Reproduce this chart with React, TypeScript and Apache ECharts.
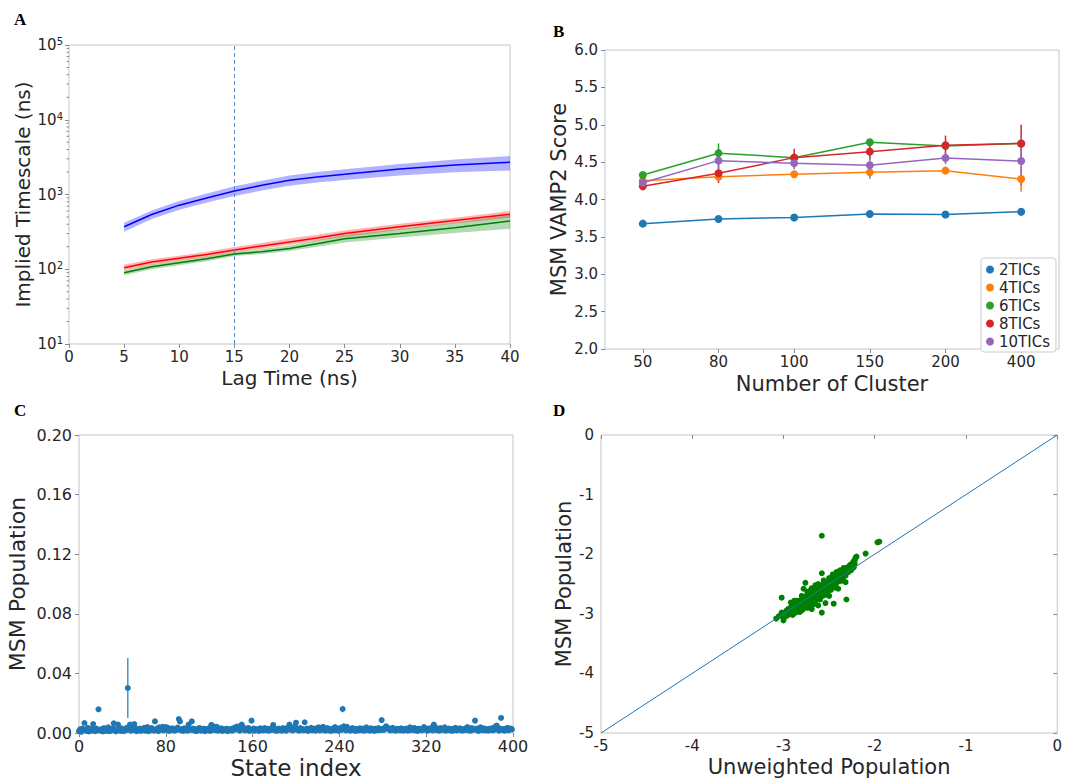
import React, { useEffect, useRef } from 'react';
import * as echarts from 'echarts';

// ---------- Panel A: implied timescales ----------
const lagTimes = [5, 7.5, 10, 12.5, 15, 17.5, 20, 22.5, 25, 30, 35, 40];
const blueMean = [371, 540, 720, 900, 1115, 1330, 1550, 1720, 1860, 2190, 2480, 2700];
const blueUpper = [420, 610, 820, 1030, 1290, 1530, 1800, 2000, 2170, 2560, 2950, 3270];
const blueLower = [318, 470, 625, 780, 955, 1130, 1310, 1450, 1560, 1800, 1980, 2100];
const redMean = [105, 125, 140, 158, 181, 205, 232, 262, 300, 370, 450, 543];
const redUpper = [115, 136, 152, 172, 198, 225, 257, 290, 330, 405, 490, 600];
const redLower = [97, 115, 130, 146, 168, 188, 212, 240, 272, 336, 410, 490];
const greenMean = [90, 108, 122, 138, 160, 172, 190, 220, 255, 300, 360, 442];
const greenUpper = [97, 116, 131, 148, 170, 186, 208, 244, 285, 345, 420, 532];
const greenLower = [83, 100, 113, 128, 150, 160, 176, 200, 228, 265, 305, 347];
const chosenLag = 15;
const logMinorMultipliers = [2, 3, 4, 5, 6, 7, 8, 9];
const logDecades = [10, 100, 1000, 10000];

// ---------- Panel B: VAMP2 scores ----------
const clusterCounts = ['50', '80', '100', '150', '200', '400'];
const ticNames = ['2TICs', '4TICs', '6TICs', '8TICs', '10TICs'];
const ticColors = ['#1f77b4', '#ff7f0e', '#2ca02c', '#d62728', '#9467bd'];
const vamp2TIC = [3.677, 3.74, 3.76, 3.806, 3.8, 3.837];
const vamp4TIC = [4.25, 4.305, 4.337, 4.363, 4.386, 4.274];
const vamp6TIC = [4.328, 4.62, 4.56, 4.765, 4.716, 4.75];
const vamp8TIC = [4.176, 4.35, 4.56, 4.64, 4.725, 4.75];
const vamp10TIC = [4.225, 4.52, 4.484, 4.457, 4.555, 4.515];
const err2TIC = [0.01, 0.015, 0.015, 0.02, 0.04, 0.05];
const err4TIC = [0.02, 0.03, 0.04, 0.03, 0.03, 0.17];
const err6TIC = [0.02, 0.13, 0.03, 0.04, 0.03, 0.05];
const err8TIC = [0.05, 0.13, 0.12, 0.1, 0.13, 0.25];
const err10TIC = [0.03, 0.12, 0.08, 0.18, 0.08, 0.33];

// ---------- Panel C: MSM population per state (units of 1e-4) ----------
const statePopX1e4 = [
  12, 25, 8, 30, 18, 67, 22, 14, 35, 10, 20, 28, 15, 60, 24, 12, 30, 18, 159, 22,
  15, 26, 10, 33, 20, 14, 28, 38, 12, 22, 17, 30, 65, 24, 11, 19, 56, 27, 14, 32,
  20, 13, 25, 18, 35, 302, 22, 56, 15, 28, 21, 60, 32, 12, 24, 18, 30, 14, 26, 20,
  35, 16, 22, 40, 12, 28, 19, 33, 24, 15, 78, 22, 30, 13, 38, 20, 26, 42, 17, 25,
  40, 22, 35, 14, 27, 19, 31, 24, 16, 29, 21, 36, 94, 78, 18, 26, 14, 32, 22, 28,
  15, 56, 24, 20, 78, 30, 17, 25, 13, 27, 22, 34, 16, 24, 19, 29, 12, 26, 21, 18,
  33, 14, 54, 23, 45, 19, 28, 42, 16, 25, 20, 31, 14, 26, 18, 22, 29, 13, 24, 20,
  27, 16, 32, 21, 38, 25, 44, 30, 15, 26, 56, 40, 22, 17, 28, 20, 34, 14, 25, 83,
  22, 30, 16, 27, 19, 25, 14, 31, 20, 24, 17, 33, 22, 18, 29, 15, 26, 21, 35, 54,
  19, 27, 14, 24, 30, 18, 25, 16, 33, 21, 28, 15, 24, 40, 56, 22, 30, 17, 26, 44,
  69, 20, 28, 15, 33, 22, 26, 18, 72, 24, 30, 14, 27, 21, 35, 18, 25, 29, 16, 31,
  22, 38, 17, 26, 20, 42, 28, 15, 24, 33, 19, 27, 14, 25, 30, 18, 40, 22, 29, 16,
  26, 35, 20, 161, 45, 24, 18, 42, 30, 22, 16, 27, 33, 19, 25, 14, 28, 21, 17, 31,
  24, 18, 30, 15, 26, 38, 21, 27, 16, 32, 20, 25, 14, 29, 22, 18, 33, 24, 19, 87,
  28, 20, 34, 45, 38, 30, 22, 17, 27, 35, 19, 24, 15, 28, 21, 26, 18, 32, 23, 16,
  27, 20, 30, 15, 25, 38, 19, 28, 22, 34, 17, 26, 14, 29, 21, 24, 18, 31, 40, 22,
  26, 16, 30, 21, 25, 35, 17, 56, 42, 23, 19, 28, 15, 33, 24, 20, 27, 38, 16, 25,
  22, 30, 18, 26, 14, 29, 21, 35, 17, 25, 20, 32, 24, 15, 27, 19, 30, 22, 40, 18,
  26, 16, 33, 21, 28, 83, 20, 30, 14, 27, 38, 19, 24, 31, 17, 26, 22, 15, 29, 21,
  21, 33, 18, 27, 45, 50, 24, 16, 30, 101, 20, 26, 15, 28, 22, 35, 18, 25, 30, 24,
];
const popErrIdx = [18, 45, 243, 365];
const popErrLoX1e4 = [144, 100, 139, 68];
const popErrHiX1e4 = [174, 504, 183, 98];

// ---------- Panel D: log10 population, unweighted vs MSM ----------
const logPopPairs: [number, number][] = [
  [-3.08, -3.08], [-3.05, -3.04], [-3.02, -2.98], [-3.0, -3.11], [-3.02, -2.73], [-2.98, -3.0],
  [-2.97, -2.95], [-2.95, -3.02], [-2.95, -2.92], [-2.93, -2.97], [-2.92, -2.89], [-2.9, -2.94],
  [-2.9, -2.85], [-2.88, -2.99], [-2.88, -2.9], [-2.87, -2.82], [-2.86, -2.95], [-2.85, -2.87],
  [-2.85, -2.78], [-2.84, -2.92], [-2.83, -2.84], [-2.82, -2.97], [-2.82, -2.8], [-2.81, -2.89],
  [-2.8, -2.75], [-2.8, -2.86], [-2.79, -2.93], [-2.78, -2.58], [-2.78, -2.82], [-2.77, -2.77],
  [-2.77, -2.88], [-2.76, -2.48], [-2.76, -2.72], [-2.75, -2.83], [-2.75, -2.79], [-2.74, -2.69],
  [-2.74, -2.9], [-2.73, -2.76], [-2.72, -2.65], [-2.72, -2.85], [-2.71, -2.72], [-2.7, -2.8],
  [-2.7, -2.6], [-2.69, -2.68], [-2.69, -2.92], [-2.68, -2.74], [-2.67, -2.63], [-2.67, -2.84],
  [-2.66, -2.7], [-2.65, -2.58], [-2.65, -2.78], [-2.64, -2.66], [-2.63, -2.73], [-2.63, -2.55],
  [-2.62, -2.62], [-2.62, -2.86], [-2.61, -2.69], [-2.6, -2.58], [-2.6, -2.76], [-2.59, -2.64],
  [-2.58, -2.32], [-2.58, -2.98], [-2.58, -1.69], [-2.58, -2.52], [-2.57, -2.7], [-2.57, -2.6],
  [-2.56, -2.56], [-2.55, -2.66], [-2.55, -2.5], [-2.54, -2.82], [-2.54, -2.6], [-2.53, -2.54],
  [-2.52, -2.64], [-2.52, -2.47], [-2.51, -2.57], [-2.5, -2.52], [-2.5, -2.7], [-2.49, -2.44],
  [-2.48, -2.6], [-2.47, -2.5], [-2.47, -2.41], [-2.46, -2.55], [-2.45, -2.83], [-2.45, -2.46],
  [-2.44, -2.38], [-2.43, -2.52], [-2.43, -2.43], [-2.42, -2.35], [-2.41, -2.47], [-2.4, -2.4],
  [-2.4, -2.58], [-2.39, -2.32], [-2.38, -2.43], [-2.37, -2.36], [-2.36, -2.29], [-2.35, -2.4],
  [-2.34, -2.33], [-2.33, -2.26], [-2.32, -2.47], [-2.32, -2.36], [-2.31, -2.76], [-2.31, -2.28],
  [-2.3, -2.22], [-2.29, -2.3], [-2.28, -2.24], [-2.27, -2.18], [-2.26, -2.27], [-2.25, -2.2],
  [-2.24, -2.14], [-2.23, -2.22], [-2.22, -2.1], [-2.21, -2.06], [-2.2, -2.04], [-2.1, -1.99],
  [-1.97, -1.8], [-1.95, -1.79], [-2.85, -2.97], [-2.96, -2.99], [-2.94, -2.96], [-2.91, -2.91],
  [-2.89, -2.88], [-2.87, -2.9], [-2.86, -2.84], [-2.84, -2.81], [-2.83, -2.88], [-2.81, -2.83],
  [-2.79, -2.8], [-2.78, -2.76], [-2.76, -2.79], [-2.75, -2.73], [-2.73, -2.7], [-2.72, -2.77],
  [-2.71, -2.66], [-2.7, -2.72], [-2.68, -2.67], [-2.67, -2.71], [-2.66, -2.62], [-2.64, -2.62],
  [-2.63, -2.68], [-2.61, -2.6], [-2.6, -2.65], [-2.59, -2.56], [-2.57, -2.53], [-2.56, -2.62],
  [-2.55, -2.56], [-2.53, -2.58], [-2.52, -2.52], [-2.51, -2.48], [-2.49, -2.54], [-2.48, -2.46],
  [-2.46, -2.48], [-2.45, -2.42], [-2.44, -2.5], [-2.42, -2.44], [-2.41, -2.38], [-2.39, -2.4],
  [-2.38, -2.35], [-2.36, -2.36], [-2.35, -2.31], [-2.33, -2.34], [-2.31, -2.3], [-2.29, -2.26],
  [-2.27, -2.25], [-2.26, -2.21], [-2.24, -2.19], [-2.23, -2.12], [-2.22, -2.16], [-2.92, -2.81],
  [-2.88, -2.78], [-2.8, -2.7], [-2.74, -2.63], [-2.69, -2.57], [-2.65, -2.52], [-2.62, -2.5],
  [-2.56, -2.44], [-2.5, -2.4], [-2.46, -2.34], [-2.42, -2.3], [-2.38, -2.27], [-2.34, -2.23],
  [-2.8, -2.94], [-2.72, -2.88], [-2.66, -2.8], [-2.6, -2.72], [-2.54, -2.68], [-2.48, -2.56],
  [-2.43, -2.56], [-2.37, -2.45], [-2.9, -3.02], [-3.0, -3.06], [-2.97, -3.04],
];
const diagonal = [[-5, -5], [0, 0]];

const FONT = 'DejaVu Sans';
const TXT = '#262626';
const FRAME = '#c4c4c4';
const TICK = '#8a8a8a';

function bandSeries(xAxisIndex: number, yAxisIndex: number, xs: number[], upper: number[], lower: number[], fill: string) {
  return {
    type: 'custom',
    xAxisIndex,
    yAxisIndex,
    silent: true,
    clip: true,
    data: [[xs[0], upper[0]]],
    renderItem: (_p: any, api: any) => {
      const pts: number[][] = [];
      for (let i = 0; i < xs.length; i++) pts.push(api.coord([xs[i], upper[i]]));
      for (let i = xs.length - 1; i >= 0; i--) pts.push(api.coord([xs[i], lower[i]]));
      return { type: 'polygon', shape: { points: pts }, style: { fill, stroke: 'none' } };
    },
    z: 1,
  };
}

function errorBars(xAxisIndex: number, yAxisIndex: number, data: number[][], color: string, width: number) {
  return {
    type: 'custom',
    xAxisIndex,
    yAxisIndex,
    silent: true,
    data,
    encode: { x: 0, y: [1, 2] },
    renderItem: (_p: any, api: any) => {
      const a = api.coord([api.value(0), api.value(1)]);
      const b = api.coord([api.value(0), api.value(2)]);
      return { type: 'line', shape: { x1: a[0], y1: a[1], x2: b[0], y2: b[1] }, style: { stroke: color, lineWidth: width } };
    },
    z: 3,
  };
}

function baseAxis(fontSize: number) {
  return {
    axisLine: { show: false },
    axisTick: { show: true, length: 4, lineStyle: { color: TICK, width: 1 } },
    axisLabel: { color: TXT, fontFamily: FONT, fontSize, margin: 6 },
    splitLine: { show: false },
    nameTextStyle: { color: TXT, fontFamily: FONT },
  };
}

export default function App() {
  const ref = useRef<HTMLDivElement>(null);
  useEffect(() => {
    document.body.style.margin = '0';
    const chart = echarts.init(ref.current!, undefined, { renderer: 'svg' });

    const vamp = [vamp2TIC, vamp4TIC, vamp6TIC, vamp8TIC, vamp10TIC];
    const errs = [err2TIC, err4TIC, err6TIC, err8TIC, err10TIC];

    const statePop = statePopX1e4.map((v) => v / 10000);

    const series: any[] = [];
    // Panel A
    series.push(bandSeries(0, 0, lagTimes, blueUpper, blueLower, 'rgba(0,0,255,0.3)'));
    series.push(bandSeries(0, 0, lagTimes, redUpper, redLower, 'rgba(255,0,0,0.3)'));
    series.push(bandSeries(0, 0, lagTimes, greenUpper, greenLower, 'rgba(0,128,0,0.3)'));
    const lineA = (data: number[], color: string, extra: any = {}) => ({
      type: 'line', xAxisIndex: 0, yAxisIndex: 0, silent: true, symbol: 'none',
      data: lagTimes.map((t, i) => [t, data[i]]),
      lineStyle: { color, width: 1.5 }, z: 4, ...extra,
    });
    series.push(lineA(blueMean, '#0000ff', {
      markLine: {
        silent: true, symbol: 'none', label: { show: false },
        lineStyle: { type: [4, 3], color: '#5b8fc4', width: 1 },
        data: [{ xAxis: chosenLag }],
      },
    }));
    series.push(lineA(redMean, '#ff0000'));
    series.push(lineA(greenMean, '#008000'));

    // Panel B
    ticNames.forEach((name, k) => {
      series.push(errorBars(1, 1, clusterCounts.map((_c, i) => [i, vamp[k][i] - errs[k][i], vamp[k][i] + errs[k][i]]), ticColors[k], 1.5));
      series.push({
        type: 'line', name, xAxisIndex: 1, yAxisIndex: 1, silent: true,
        data: vamp[k], symbol: 'circle', symbolSize: 8,
        itemStyle: { color: ticColors[k] }, lineStyle: { color: ticColors[k], width: 1.5 }, z: 4,
      });
    });

    // Panel C
    series.push(errorBars(2, 2, popErrIdx.map((idx, i) => [idx, popErrLoX1e4[i] / 10000, popErrHiX1e4[i] / 10000]), '#1f77b4', 1.2));
    series.push({
      type: 'scatter', xAxisIndex: 2, yAxisIndex: 2, silent: true,
      data: statePop.map((v, i) => [i, v]), symbol: 'circle', symbolSize: 6,
      itemStyle: { color: '#1f77b4', opacity: 1 }, z: 4,
    });

    // Panel D
    series.push({
      type: 'scatter', xAxisIndex: 3, yAxisIndex: 3, silent: true,
      data: logPopPairs, symbol: 'circle', symbolSize: 6,
      itemStyle: { color: '#008000', opacity: 1 }, z: 3,
    });
    series.push({
      type: 'line', xAxisIndex: 3, yAxisIndex: 3, silent: true, symbol: 'none',
      data: diagonal, lineStyle: { color: '#1f77b4', width: 1 }, z: 5,
    });

    const gridStyle = { show: true, borderColor: FRAME, borderWidth: 1, backgroundColor: 'transparent', containLabel: false };

    const panelLabel = (txt: string, x: number, y: number) => ({
      type: 'text', left: x, top: y,
      style: { text: txt, font: 'bold 17px "Liberation Serif", "DejaVu Serif", serif', fill: '#000' },
    });

    const option: any = {
      animation: false,
      backgroundColor: '#ffffff',
      grid: [
        { ...gridStyle, left: 69, top: 45, width: 441, height: 299 },
        { ...gridStyle, left: 605, top: 50, width: 454, height: 299 },
        { ...gridStyle, left: 79, top: 435, width: 434, height: 298 },
        { ...gridStyle, left: 601, top: 435, width: 459, height: 298 },
      ],
      xAxis: [
        {
          ...baseAxis(15), type: 'value', gridIndex: 0, min: 0, max: 40, interval: 5,
          axisLabel: { color: TXT, fontFamily: FONT, fontSize: 15, margin: 5 },
          name: 'Lag Time (ns)', nameLocation: 'middle', nameGap: 24,
          nameTextStyle: { color: TXT, fontFamily: FONT, fontSize: 20 },
        },
        {
          ...baseAxis(15), type: 'category', gridIndex: 1, data: clusterCounts, boundaryGap: true,
          axisTick: { show: true, alignWithLabel: true, length: 4, lineStyle: { color: TICK } },
          axisLabel: { color: TXT, fontFamily: FONT, fontSize: 15, margin: 5 },
          name: 'Number of Cluster', nameLocation: 'middle', nameGap: 24,
          nameTextStyle: { color: TXT, fontFamily: FONT, fontSize: 21 },
        },
        {
          ...baseAxis(16), type: 'value', gridIndex: 2, min: 0, max: 400, interval: 80,
          axisLabel: { color: TXT, fontFamily: FONT, fontSize: 16, margin: 5 },
          name: 'State index', nameLocation: 'middle', nameGap: 23,
          nameTextStyle: { color: TXT, fontFamily: FONT, fontSize: 23 },
        },
        {
          ...baseAxis(15), type: 'value', gridIndex: 3, min: -5, max: 0, interval: 1,
          axisLabel: { color: TXT, fontFamily: FONT, fontSize: 15, margin: 5 },
          name: 'Unweighted Population', nameLocation: 'middle', nameGap: 23,
          nameTextStyle: { color: TXT, fontFamily: FONT, fontSize: 21 },
        },
      ],
      yAxis: [
        {
          ...baseAxis(15), type: 'log', logBase: 10, gridIndex: 0, min: 10, max: 100000,
          axisLabel: {
            color: TXT, fontFamily: FONT, fontSize: 15, margin: 6,
            formatter: (v: number) => '10{sup|' + Math.round(Math.log10(v)) + '}',
            rich: { sup: { fontSize: 10, fontFamily: FONT, color: TXT, verticalAlign: 'top', padding: [0, 0, 7, 0] } },
          },
          name: 'Implied Timescale (ns)', nameLocation: 'middle', nameGap: 36,
          nameTextStyle: { color: TXT, fontFamily: FONT, fontSize: 20 },
        },
        {
          ...baseAxis(15), type: 'value', gridIndex: 1, min: 2, max: 6, interval: 0.5,
          axisLabel: { color: TXT, fontFamily: FONT, fontSize: 15, margin: 7, formatter: (v: number) => v.toFixed(1) },
          name: 'MSM VAMP2 Score', nameLocation: 'middle', nameGap: 36,
          nameTextStyle: { color: TXT, fontFamily: FONT, fontSize: 21 },
        },
        {
          ...baseAxis(16), type: 'value', gridIndex: 2, min: 0, max: 0.2, interval: 0.04,
          axisLabel: { color: TXT, fontFamily: FONT, fontSize: 16, margin: 7, formatter: (v: number) => v.toFixed(2) },
          name: 'MSM Population', nameLocation: 'middle', nameGap: 51,
          nameTextStyle: { color: TXT, fontFamily: FONT, fontSize: 22 },
        },
        {
          ...baseAxis(15), type: 'value', gridIndex: 3, min: -5, max: 0, interval: 1,
          axisLabel: { color: TXT, fontFamily: FONT, fontSize: 15, margin: 7 },
          name: 'MSM Population', nameLocation: 'middle', nameGap: 27,
          nameTextStyle: { color: TXT, fontFamily: FONT, fontSize: 21 },
        },
      ],
      legend: {
        data: ticNames.map((n, k) => ({ name: n, icon: 'circle', itemStyle: { color: ticColors[k] } })),
        orient: 'vertical', left: 981, top: 258,
        itemWidth: 8, itemHeight: 8, itemGap: 3,
        padding: [4, 6, 3, 5],
        borderColor: '#cccccc', borderWidth: 1, borderRadius: 3, backgroundColor: '#ffffff',
        textStyle: { color: TXT, fontFamily: FONT, fontSize: 15 },
        selectedMode: false,
      },
      graphic: [
        panelLabel('A', 14, 11),
        panelLabel('B', 553, 23),
        panelLabel('C', 14, 402),
        panelLabel('D', 553, 402),
      ],
      series,
    };
    chart.setOption(option);

    // minor ticks of the log axis, placed through the axis scale
    const minor: any[] = [];
    logDecades.forEach((d) => {
      logMinorMultipliers.forEach((m) => {
        const y = chart.convertToPixel({ yAxisIndex: 0 }, d * m) as number;
        const x0 = chart.convertToPixel({ xAxisIndex: 0 }, 0) as number;
        minor.push({ type: 'line', shape: { x1: x0 - 2.5, y1: y, x2: x0, y2: y }, style: { stroke: TICK, lineWidth: 1 }, silent: true });
      });
    });
    chart.setOption({ graphic: [...option.graphic, ...minor] });
    return () => chart.dispose();
  }, []);
  return <div ref={ref} style={{ width: 1065, height: 780 }} />;
}
